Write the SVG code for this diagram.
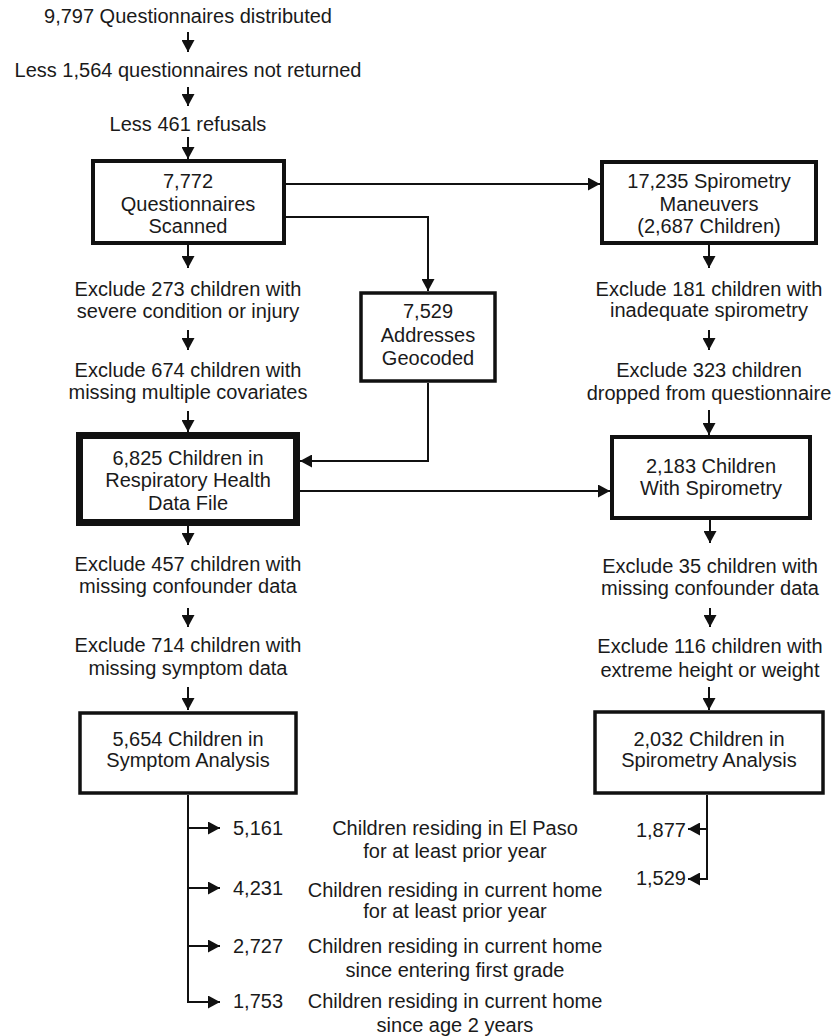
<svg xmlns="http://www.w3.org/2000/svg" width="832" height="1036" viewBox="0 0 832 1036">
<style>
text{font-family:"Liberation Sans",Arial,sans-serif;font-size:20px;fill:#1a1a1a;text-anchor:middle}
.st{text-anchor:start}
.en{text-anchor:end}
.box{fill:#fff;stroke:#111;stroke-width:4}
.thick{stroke-width:7}
.thin{stroke-width:3.5}
.ln{fill:none;stroke:#111;stroke-width:2}
</style>
<defs>
<marker id="ah" markerUnits="userSpaceOnUse" markerWidth="13" markerHeight="13" refX="12" refY="6.5" orient="auto">
<path d="M0,0 L12,6.5 L0,13 Z" fill="#111"/>
</marker>
</defs>
<rect width="832" height="1036" fill="#fff"/>
<g id="connectors">
<path class="ln" marker-end="url(#ah)" d="M188,32 V52"/>
<path class="ln" marker-end="url(#ah)" d="M188,87 V106"/>
<path class="ln" marker-end="url(#ah)" d="M188,137 V159"/>
<path class="ln" marker-end="url(#ah)" d="M286,184 H600"/>
<path class="ln" marker-end="url(#ah)" d="M286,217 H428 V291"/>
<path class="ln" marker-end="url(#ah)" d="M188,245 V268"/>
<path class="ln" marker-end="url(#ah)" d="M188,330 V350"/>
<path class="ln" marker-end="url(#ah)" d="M188,411 V432"/>
<path class="ln" marker-end="url(#ah)" d="M428,383 V461 H300"/>
<path class="ln" marker-end="url(#ah)" d="M300,491 H610"/>
<path class="ln" marker-end="url(#ah)" d="M188,526 V545"/>
<path class="ln" marker-end="url(#ah)" d="M188,608 V627"/>
<path class="ln" marker-end="url(#ah)" d="M188,687 V710"/>
<path class="ln" marker-end="url(#ah)" d="M188,795 V1002 H220"/>
<path class="ln" marker-end="url(#ah)" d="M188,828 H220"/>
<path class="ln" marker-end="url(#ah)" d="M188,888 H220"/>
<path class="ln" marker-end="url(#ah)" d="M188,946 H220"/>
<path class="ln" marker-end="url(#ah)" d="M709,245 V268"/>
<path class="ln" marker-end="url(#ah)" d="M709,330 V350"/>
<path class="ln" marker-end="url(#ah)" d="M709,410 V435"/>
<path class="ln" marker-end="url(#ah)" d="M710,520 V543"/>
<path class="ln" marker-end="url(#ah)" d="M710,608 V627"/>
<path class="ln" marker-end="url(#ah)" d="M709,687 V710"/>
<path class="ln" marker-end="url(#ah)" d="M707,795 V879 H688"/>
<path class="ln" marker-end="url(#ah)" d="M707,829 H688"/>
</g>
<g id="t-distributed"><text x="188" y="23">9,797 Questionnaires distributed</text></g>
<g id="t-notreturned"><text x="188" y="77">Less 1,564 questionnaires not returned</text></g>
<g id="t-refusals"><text x="188" y="131">Less 461 refusals</text></g>
<g id="n-scanned">
<rect class="box" x="93" y="161" width="191" height="82"/>
<text x="188" y="188">7,772</text>
<text x="188" y="211">Questionnaires</text>
<text x="188" y="233">Scanned</text>
</g>
<g id="n-spirometry-maneuvers">
<rect class="box" x="602" y="162" width="214" height="81"/>
<text x="709" y="188">17,235 Spirometry</text>
<text x="709" y="211">Maneuvers</text>
<text x="709" y="233">(2,687 Children)</text>
</g>
<g id="n-geocoded">
<rect class="box thin" x="361" y="293" width="134" height="88"/>
<text x="428" y="318">7,529</text>
<text x="428" y="342">Addresses</text>
<text x="428" y="365">Geocoded</text>
</g>
<g id="t-ex273"><text x="188" y="296">Exclude 273 children with</text><text x="188" y="318">severe condition or injury</text></g>
<g id="t-ex674"><text x="188" y="377">Exclude 674 children with</text><text x="188" y="399">missing multiple covariates</text></g>
<g id="t-ex181"><text x="709" y="296">Exclude 181 children with</text><text x="709" y="317">inadequate spirometry</text></g>
<g id="t-ex323"><text x="709" y="377">Exclude 323 children</text><text x="709" y="400">dropped from questionnaire</text></g>
<g id="n-datafile">
<rect class="box thick" x="79.5" y="435.5" width="217" height="87"/>
<text x="188" y="465">6,825 Children in</text>
<text x="188" y="487">Respiratory Health</text>
<text x="188" y="510">Data File</text>
</g>
<g id="n-withspirometry">
<rect class="box" x="612" y="437" width="198" height="81"/>
<text x="711" y="473">2,183 Children</text>
<text x="711" y="495">With Spirometry</text>
</g>
<g id="t-ex457"><text x="188" y="571">Exclude 457 children with</text><text x="188" y="593">missing confounder data</text></g>
<g id="t-ex714"><text x="188" y="652">Exclude 714 children with</text><text x="188" y="675">missing symptom data</text></g>
<g id="t-ex35"><text x="710" y="573">Exclude 35 children with</text><text x="710" y="595">missing confounder data</text></g>
<g id="t-ex116"><text x="710" y="653">Exclude 116 children with</text><text x="710" y="677">extreme height or weight</text></g>
<g id="n-symptom">
<rect class="box thin" x="80" y="713" width="216" height="80"/>
<text x="188" y="746">5,654 Children in</text>
<text x="188" y="767">Symptom Analysis</text>
</g>
<g id="n-spiroanalysis">
<rect class="box thin" x="595" y="712" width="228" height="81"/>
<text x="709" y="746">2,032 Children in</text>
<text x="709" y="767">Spirometry Analysis</text>
</g>
<g id="t-row1">
<text class="st" x="233" y="835">5,161</text>
<text x="455" y="835">Children residing in El Paso</text>
<text x="455" y="858">for at least prior year</text>
<text class="en" x="686" y="837">1,877</text>
</g>
<g id="t-row2">
<text class="st" x="233" y="895">4,231</text>
<text x="455" y="897">Children residing in current home</text>
<text x="455" y="918">for at least prior year</text>
<text class="en" x="686" y="885">1,529</text>
</g>
<g id="t-row3">
<text class="st" x="233" y="953">2,727</text>
<text x="455" y="953">Children residing in current home</text>
<text x="455" y="977">since entering first grade</text>
</g>
<g id="t-row4">
<text class="st" x="233" y="1008">1,753</text>
<text x="455" y="1008">Children residing in current home</text>
<text x="455" y="1032">since age 2 years</text>
</g>
</svg>
